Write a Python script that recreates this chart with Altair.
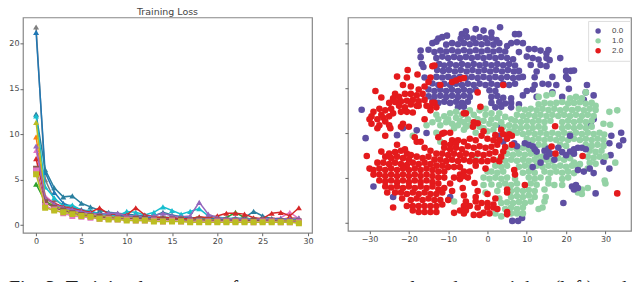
import altair as alt
import pandas as pd

epochs = list(range(30))
loss_series = [
 ("#ff7f0e","triangle-up",[9.7,3.0,2.3,1.9,1.6,1.4,1.2,1.1,1.0,0.9,0.9,0.8,0.8,0.7,0.8,0.7,0.7,0.6,0.7,0.6,0.6,0.6,0.7,0.6,0.6,0.5,0.6,0.6,0.8,0.7]),
 ("#2ca02c","triangle-up",[4.5,2.6,2.1,1.8,1.5,1.3,1.2,1.1,1.0,0.9,0.8,0.8,0.8,0.7,0.7,0.7,0.6,0.6,0.6,0.6,0.7,0.8,1.4,0.8,0.6,0.6,0.5,0.6,0.6,0.6]),
 ("#e377c2","triangle-up",[8.2,3.2,2.4,1.9,1.7,1.4,1.2,1.1,1.1,0.9,0.9,0.8,0.8,0.8,0.7,0.7,0.7,0.7,0.7,0.7,0.6,0.6,0.6,0.6,0.6,0.7,0.7,0.8,1.4,0.7]),
 ("#7f7f7f","triangle-up",[21.8,5.0,2.8,2.2,1.9,1.6,1.4,1.2,1.1,1.0,0.9,0.9,0.8,0.8,0.9,0.8,0.7,0.7,0.8,0.7,0.7,0.6,0.6,0.6,0.6,0.6,0.6,0.5,0.6,0.7]),
 ("#1f77b4","triangle-up",[21.2,5.8,3.6,2.4,2.0,1.7,1.4,1.3,1.2,1.1,1.0,0.9,0.9,0.8,0.8,0.8,0.7,0.7,0.7,0.7,0.6,0.6,0.6,0.6,0.6,0.5,0.5,0.5,0.6,0.5]),
 ("#2a7f9f","triangle-up",[12.2,6.1,4.1,3.1,3.2,2.4,2.0,1.6,1.4,1.3,1.2,1.1,1.0,1.0,1.4,1.1,0.9,0.8,0.8,0.8,0.7,0.7,0.7,0.8,1.5,1.0,0.7,0.7,0.6,0.6]),
 ("#17becf","triangle-up",[12.0,4.2,3.0,2.1,2.2,1.6,1.6,1.2,1.1,1.0,1.5,1.4,1.1,1.4,2.0,1.6,1.2,1.5,1.8,1.0,0.9,0.7,0.8,0.6,0.7,0.6,0.6,0.5,0.5,0.5]),
 ("#bcbd22","triangle-up",[11.3,3.0,2.2,1.8,1.5,1.3,1.1,1.0,0.9,0.8,0.8,0.7,0.7,0.7,0.6,0.6,0.6,0.6,0.6,0.6,0.5,0.5,0.5,0.5,0.5,0.5,0.5,0.5,0.5,0.5]),
 ("#d62728","triangle-up",[7.3,3.0,2.4,2.0,1.8,1.6,1.4,1.9,1.2,1.2,1.1,1.9,1.1,0.9,0.8,0.8,0.7,0.7,0.9,0.8,1.0,1.3,1.3,1.2,0.8,0.7,1.3,1.4,1.0,1.9]),
 ("#9467bd","triangle-up",[8.7,3.0,2.3,1.9,1.7,1.5,1.3,1.2,1.3,1.3,1.0,1.0,0.9,1.0,1.3,1.0,0.9,1.0,2.5,1.2,0.8,0.7,0.7,0.6,0.6,0.7,0.6,0.6,0.7,0.8]),
 ("#8c564b","square",[6.2,2.5,1.9,1.6,1.3,1.1,1.0,0.9,0.8,0.7,0.7,0.7,0.7,0.6,0.6,0.6,0.6,0.5,0.6,0.5,0.5,0.5,0.5,0.5,0.5,0.5,0.5,0.4,0.4,0.4]),
 ("#e377c2","square",[6.0,2.1,1.7,1.3,1.0,0.9,0.8,0.7,0.7,0.6,0.6,0.5,0.5,0.5,0.4,0.5,0.4,0.4,0.4,0.4,0.4,0.4,0.4,0.4,0.3,0.4,0.4,0.3,0.3,0.3]),
 ("#bcbd22","square",[5.6,1.9,1.6,1.4,1.2,1.0,0.9,0.7,0.6,0.6,0.5,0.5,0.5,0.4,0.4,0.4,0.4,0.3,0.3,0.3,0.3,0.3,0.3,0.3,0.3,0.3,0.3,0.3,0.3,0.2]),
]

purple_points = [(-5.5,34),(-3,34.7),(-1,34.2),(1,33.5),(3.2,35.3),(-6.5,33),(7,33),(8,33),
(-11.5,32),(-10.3,32.5),(-12.5,31.5),(-6.8,31.5),(-5.2,32),(-3.6,31.5),(-2,32),(-0.5,31.6),(1,31.8),(2.3,31),
(-14,30),(-13,30.5),(-10.5,29.5),(-9,30),(-7.5,29.6),(-6,30),(-4.5,29.6),(-3,30),(-1.5,29.6),(0,30),(1.5,29.5),(3,30),(5,29),(6,30),(7.5,30.3),(9,30),
(-17,27.5),(-15,27.8),(-13.5,27),(-12,27.5),(-10.5,27.2),(-9,27.6),(-7.5,27.2),(-6,27.6),(-4.5,27.2),(-3,27.6),(-1.5,27.2),(0,27.6),(1.5,27.2),(3,27.6),(4.5,27.2),(8,27),(10.5,28),(12,28),(13.5,27.5),(15,26.5),(15.5,27.7),
(-17,25.3),(-13,25),(-11.5,25.5),(-10,25),(-8.5,25.4),(-7,25),(-5.5,25.4),(-4,25),(-2.5,25.4),(-1,25),(0.5,25.4),(2,25),(3.5,25.4),(5,25),(6.5,24.6),(10,25.5),(11.5,25),(13,24.5),(15,25),(15.8,24.3),(18.5,25),
(-16.7,23),(-16.3,22),(-12.3,23),(-11,22.5),(-9.5,23),(-8,22.6),(-6.5,23),(-5,22.6),(-3.5,23),(-2,22.6),(-0.5,23),(1,22.6),(2.5,23),(4,22.6),(5.5,23),(7,22.5),(11,22.7),(13.5,22.7),(15,22.3),
(-12.8,21),(-11.3,20.7),(-9.8,21),(-8.3,20.5),(-6.8,21),(-5.3,20.5),(-3.8,21),(-2.3,20.5),(-0.8,21),(0.7,20.5),(2.2,21),(3.7,20.5),(5.2,21),(6.7,20.5),(8,20.7),(12.5,20.5),(20,20.7),(21.2,20.7),(22,20.8),
(-13,18.7),(-16,18.5),(-11.5,18.5),(-10,18.7),(-8.5,18.3),(-7,18.7),(-5.5,18.3),(-4,18.7),(-2.5,18.3),(-1,18.7),(0.5,18.3),(2,18.7),(3.5,18.3),(5,18.7),(6.5,18.3),(8,18.5),(9,18.7),(12,18.6),(16.5,18.7),(20,18.7),(20.5,18),
(-14,16.5),(-12.5,16),(-11,16.4),(-9.5,16),(-8,16.4),(-6.5,16),(-5,16.4),(-3.5,16),(-2,16.4),(-0.5,16),(1,16.4),(2.5,16),(4,16.4),(5.5,16),(7,16.4),(12,16),(14,16.4),(15.5,16.2),(17.5,16),(25.3,16),
(-15,14.5),(-13.5,14),(-12,14.4),(-10.5,14),(-9,14.4),(-7.5,14),(-6,14.4),(-4.5,14),(-3,14.4),(0.5,14.2),(2,14),(10,14),(11.5,14.5),(16.5,13.5),(20.7,14.7),(25,13.5),
(-15,12.2),(-13.5,12),(-12,12.4),(-10.5,12),(-9,12.4),(-7.5,12),(-6,12.4),(-4.5,12),(1,12),(2.5,12.3),(4,11.7),(6,11.5),(9,12.5),(12.5,12),(19,12),(24.5,11),(27,12.5),
(-14,10.5),(-12.5,10),(-11,10.4),(-9.5,10),(-8,10.4),(-6.5,10),(-5,10.4),(1,10),(3,10.3),(4.5,9.8),(6,10),(8,9.5),
(-7.5,8.5),(-6,8.7),(2,8.5),(3.5,8.7),(6,8.5),
(-32,7.7),(-31,-1.8),(-23,-0.8),(-21.5,1.5),(-18,0.8),(-15.5,-0.1),(27,4.5),(26.3,2.5),(34,0),(34.5,-2.5),(33.5,-4.3),(31.5,-1),(31,-3.5),(31.3,-7.5),(29.5,-9.7),(31,-12),(27,-13.5),(27.5,-20.3),(19.3,-23.5),(-29,-18),(-24,-21.5),(-9.5,-21.5),(6.3,-29.5),(7.8,-29.5),(8.8,-28.5),(3.5,2.3),(3,-1),(4,-3),
]
green_points = [(13,12),(15,12.5),(16.5,13),(21,11.5),(22.5,12),(24,11.5),(25,13.5),(13,9.5),(14.5,10),(16,9.8),(17.5,10),(19,10.3),(20.5,9.8),(22,10),(23.5,10.2),(25,9.7),(26.5,10),(27.5,9),
(31,7),(33,7.5),(8,8),(9.5,7.7),(11,8),(12.5,7.5),(14,8),(15.5,7.6),(17,8),(18.5,7.5),(20,8),(21.5,7.6),(23,8),(24.5,7.5),(26,8),(27.5,7.6),
(7.5,6),(9,5.6),(10.5,6),(12,5.6),(13.5,6),(15,5.6),(16.5,6),(18,5.6),(19.5,6),(21,5.6),(22.5,6),(24,5.6),(25.5,6),(27,5.6),
(7,4),(8.5,3.6),(10,4),(11.5,3.6),(13,4),(14.5,3.6),(16,4),(19,3.6),(20.5,4),(22,3.6),(23.5,4),(25,3.6),(26.5,4),(29.5,3),(31.2,2.7),
(7,2),(8.5,1.6),(10,2),(11.5,1.6),(13,2),(14.5,1.6),(19,1.6),(20.5,2),(22,1.6),(23.5,2),(25,1.6),(26.5,2),
(7.5,0),(9,-0.4),(10.5,0),(12,-0.4),(13.5,0),(15,-0.4),(16.5,0),(18,-0.4),(19.5,0),(21,-0.4),(22.5,0),(24,-0.4),(25.5,0),(27,-0.4),(28.5,0),(29.7,-0.6),
(10,-2),(11.5,-2.4),(13,-2),(14.5,-2.4),(16,-2),(17.5,-2.4),(19,-2),(20.5,-2.4),(22,-2),(23.5,-2.4),(25,-2),(26.5,-2.4),(28,-2),(29.5,-2.4),
(13,-4),(14.5,-4.4),(18.5,-4),(20,-4.4),(25,-4),(26.5,-4.4),(28,-4),(29.5,-4.4),
(6,-5),(7.5,-5.4),(9,-5),(10.5,-5.4),(12,-6),(26,-6),(27.5,-6.4),(29,-6),
(5,-7),(6.5,-7.4),(8,-7),(9.5,-7.4),(11,-7),(12.5,-7.5),(14,-8),(15.5,-7.5),(18,-8.5),(19.5,-9),(21,-8.5),(25.5,-8),(27,-8.4),(28.5,-8),(30,-8),(32.5,-10),
(3,-9),(4.5,-9.4),(6,-9),(7.5,-9.4),(9,-9),(10.5,-9.4),(12,-9),(13.5,-9.4),(15,-9),(16.5,-9.4),(22,-10),(23.5,-10.5),(26,-10),(27.5,-10.4),
(2,-11),(3.5,-11.4),(5,-11),(8,-11.4),(9.5,-11),(11,-11.4),(12.5,-11),(14,-11.4),(15.5,-11),(17,-11.4),(18.5,-11),(20,-11.4),(21.5,-11),(23,-11.5),(25.5,-12),
(1,-13),(2.5,-13.4),(4,-13),(9,-13.4),(10.5,-13),(12,-13.4),(14.5,-13),(16,-13.4),(17.5,-13),(19,-13.4),(20.5,-13),(22,-13.5),
(-1,-15),(0.5,-15.4),(2,-15),(3.5,-15.4),(5,-15),(7,-15.4),(10.5,-15),(12,-15.4),(13.5,-15),(15.5,-15.4),(19,-15.5),(20.5,-15),(29.8,-16),(30,-17),
(-1,-17.5),(1,-17.3),(3,-17.5),(4.5,-17),(6,-17.5),(7.5,-17),(11,-17),(12.5,-17.4),(15.5,-17),(17,-17.5),(19,-17.5),(24,-19),(25.5,-18.5),
(2.5,-19.5),(6,-19.5),(7.5,-19.2),(9,-19.5),(10.5,-19.2),(12,-19.5),(14.5,-19),(23,-20),(24,-20.5),
(6,-21.5),(7.5,-21.2),(9,-21.5),(10.5,-21),(12,-21.5),(14.8,-21.5),(3,-22),
(3.5,-23.5),(5,-23.3),(6.5,-23.5),(8,-23.2),(9.5,-23.5),(11,-23),(14.5,-23),
(4.5,-25.5),(6,-25),(7.5,-25.5),(9,-25),(13,-25.5),(14,-25),
(2,-27),(3.5,-28),(6,-27),(7.5,-27),(9,-27),
(-14,3.5),(-15.5,2.5),(-12.5,4.5),(-11,5.5),(-9.5,6.5),(-8,5),(-6.5,6),(-5,4.5),(-3.5,6),(-2,7.5),(-0.5,6),(1,6.5),(2.5,5),(4.5,5.3),(6,4.5),(-12,2.5),(-10.5,3.5),(-9,3),(-7.5,2.5),(-6,3.5),(-4.5,2.5),(-1,4),(0.5,3),(2,2.5),(4,2),(5.5,2.5),(-1,1.5),(-3,0),(-6,1),(0,0.5),(-19,-1),(-12,-3),(-13,0),(-8.5,-23),(-3,-9),(0,-13),(-0.5,-20),
(-8,7),(-4.5,7.5),(-0.5,8),(3,6.5),(-7,4),(-10,4.5),(-13,6),(-2.5,4.5),(1,4.5),(3.5,3.5),(-8.5,1.5),(-5.5,2),(-2,2),(1.5,1),(6.5,0.5),(5.5,0.5),
]
purple_on_top = [(9.5,-3.5),(10.5,-4),(11.5,-4.5),(12,-5.5),(12.5,-6.3),(14.5,-6),(15.5,-5.3),(16,-7),(15,-8),(15.7,-7),(18,-5),(19,-6.5),(20,-7.5),(21,-6.3),(22,-7),(22,-5.5),(23,-5),(24,-5),(25,-5.5),(21.5,-18),(22.5,-17.5),(23,-18.5),(22,-19),(11.5,-11.5),(17,-9),(13.5,-10),(23,-12.5),(24.5,-13),(21,-1),(26,-12),(6.8,-3.5),(7.5,-4.5),
]
red_points = [(-20.3,21),(-17.8,19.5),(-14,22.3),(-20.5,18.5),(-23,18.8),(-28.5,14),(-27,11.8),(-23.5,13),(-21.5,16),(-19.5,15.5),(-17.5,14.5),(-16,15.5),(-15,17),(-14.5,18.5),
(-24,11.5),(-22.5,12),(-21,13),(-19.5,13),(-18,12.5),(-16.5,13),(-25,10),(-23.5,10.3),(-22,10.5),(-20.5,10.7),(-19,11),(-17.5,10.5),(-16,11),(-15.5,9),(-18,9),(-21,8.5),(-19.5,9.5),(-22.5,9),(-14.5,8.5),(-13.5,10),(-24.5,8),(-13,8.5),
(-29,7),(-27.5,8),(-26,7.5),(-27,6),(-29.5,5.5),(-28,4.5),(-26.5,5),(-25,5.5),(-24,6.5),(-30,4.5),(-29.5,3),(-27.5,2.5),(-26,3.8),(-25,2.5),(-22,7),(-20.5,7),(-19,6.8),(-24.7,1.5),(-22,2),(-21.5,3),(-17.5,9),(-28,1.5),(-26,-1),(-20,2),
(-16,4.5),(-18.5,-1.5),(-17,-3),(-12.5,-1.5),(-11.5,-0.3),(-11,0),(-9.5,0),(-1,0.5),(-2.5,3.2),(-3.5,3.5),(-3.7,2),(-5.5,6.5),(-11,-3.5),(-9,-2.5),
(2,-0.8),(3.5,1),(4,-0.5),(5.5,-0.5),(6.2,-1),(5,-2),(6.2,-4),(4.5,-4.8),(3,-2.5),(1.5,-2.5),(0,-2),(-1.5,-1),(-3,-2.5),(-4.5,-2),(-6,-3),(-7.5,-2.5),(-9.5,-4),(-8,-3.7),
(-11,-5),(-9.5,-5.5),(-8,-5),(-6.5,-5.5),(-5,-4.5),(-3.5,-5),(-2,-4.5),(-0.5,-5),(1,-4.7),(2.5,-4),(4,-6.3),
(-11.5,-7),(-10,-7.5),(-8.5,-7),(-7,-7.5),(-5.5,-7),(-4,-7.5),(-2.5,-7),(-1,-7.5),(0.5,-7),(2,-6.5),(3.5,-8),(-13,-7),(-14.5,-6),(-16,-5),(-18,-3),
(-12,-9),(-10.5,-9.5),(-9,-9),(-7.5,-9.5),(-6,-9),(-4.5,-9.5),(-3,-9.5),(-1.5,-9.5),(0,-9.5),(1.5,-9),(3,-9.5),
(-30.7,-7.8),(-27,-6.3),(-25,-7),(-23.5,-6.5),(-22,-6),(-20.5,-7),(-23,-4),(-21,-5.5),(-19.5,-7.5),(-26,-8),(-24.5,-8.5),(-23,-8),(-21.5,-8.5),(-20,-9),(-18,-8),(-16.5,-8.5),(-15,-8),(-13.5,-9),
(-28,-10),(-26.5,-10),(-25,-10.5),(-23.5,-10),(-22,-10.5),(-20.5,-10.8),(-19,-10),(-17.5,-10.5),(-16,-10),(-14.5,-10.5),(-13,-11),(-11.5,-11),(-10,-11.5),(-8.5,-11.5),(-7,-11.5),(-3,-11),(-0.5,-12),(-30,-12),(-29,-12.5),
(-27.5,-12),(-26,-12.5),(-24.5,-12),(-23,-12.5),(-21.5,-12),(-20,-12.5),(-18.5,-12),(-17,-12.5),(-15.5,-12),(-14,-12.5),(-12.5,-13),(-11,-13),(-6,-13),(-4.5,-13),(-7,-14),
(-29,-14),(-27.5,-14),(-26,-14.5),(-24.5,-14),(-23,-14.5),(-21.5,-14),(-20,-14.5),(-18.5,-14),(-17,-14.5),(-15.5,-14),(-14,-14.5),(-12.5,-15),(-11,-15),(-8.5,-15),(-5,-15),(-7,-15.5),(-6,-14.5),
(-27.5,-16),(-26,-16.3),(-24.5,-16),(-23,-16.5),(-21.5,-16),(-20,-16.5),(-18.5,-16),(-17,-16.5),(-15.5,-16),(-14,-16.5),(-12.5,-17),(-9.5,-17),(-3.3,-16.8),
(-26,-18),(-24.5,-18.3),(-23,-18),(-21.5,-18.5),(-20,-18),(-18.5,-18.5),(-17,-18),(-15.5,-18.5),(-14,-18),(-12.5,-19),(-11,-18.5),(-6.3,-18.5),(-2.5,-19.5),
(-25.5,-20),(-23.5,-20),(-22,-20),(-20.5,-20.5),(-19,-20),(-17.5,-20.5),(-16,-20),(-14.5,-20.5),(-13,-20.5),(-11.5,-20),(-9,-19.5),(-6,-21),(-3,-21.5),(0,-20.5),(2,-22),
(-21.7,-22),(-19.5,-22.5),(-18,-22),(-16.5,-22.5),(-15,-22),(-13.5,-22.5),(-12,-22.5),(-10,-22.5),(-3,-23),(-1.5,-23.5),(0,-23.5),(-5.5,-23),(1.5,-24),
(-24,-25),(-20.5,-24.5),(-19,-24.5),(-17.5,-24.5),(-16,-24.5),(-14.5,-24.5),(-13,-24.5),(-11.5,-24),(-6,-24.5),(-4.5,-24.5),(0,-25),(1.5,-25),(2.5,-25.5),(-2.5,-25),
(-19,-26),(-17.5,-26.5),(-16,-26.5),(-14.5,-26.5),(-13,-26.5),(-8.5,-26.8),(-7,-26),(-6,-27),(-5.5,-26),(-3.5,-27.5),(-2,-27.5),(-1,-26.8),(0.5,-27),
(17.2,2.2),(16.3,-4.6),(17.3,-7),(24.2,-7.8),(33,-20.3),(9.5,-17.5),(6.8,-12.5),(7,-14),(5,-19),(5,-20),(5,-26.5),(5,-27.3),
(-12,16),(-13.5,22.5),(-9,17),(-8,17.5),(-7,18),(-6,18.3),(-2.5,13.5),(4,16),(-1.8,8.7),(-6,6.5),(-14,10),(-14.5,7.5),
]

scatter_rows = (
    [{"tx": p[0], "ty": p[1], "c": "0.0"} for p in purple_points]
    + [{"tx": p[0], "ty": p[1], "c": "1.0"} for p in green_points]
    + [{"tx": p[0], "ty": p[1], "c": "0.0"} for p in purple_on_top]
    + [{"tx": p[0], "ty": p[1], "c": "2.0"} for p in red_points]
)
scatter_df = pd.DataFrame(scatter_rows)
panel_title = ["Training Loss"]
caption_left = ["Fig. 3: Training loss curves for"]
caption_right = ["clean data weights (left) and"]

left_x = alt.X("e:Q", scale=alt.Scale(domain=[-1.45, 30.45], nice=False, zero=False),
               axis=alt.Axis(values=[0, 5, 10, 15, 20, 25, 30], title=None, grid=False, domain=False,
                             labelFontSize=8, labelColor="#444", tickColor="#666", tickSize=3, labelPadding=2,
                             labelFlush=False, format="d"))
left_y = alt.Y("v:Q", scale=alt.Scale(domain=[-0.85, 22.85], nice=False, zero=False),
               axis=alt.Axis(values=[0, 5, 10, 15, 20], title=None, grid=False, domain=False,
                             labelFontSize=8, labelColor="#444", tickColor="#666", tickSize=3, labelPadding=1,
                             maxExtent=14, minExtent=14, format="d"))
layers = []
for color, shape, vals in loss_series:
    d = pd.DataFrame({"e": epochs, "v": vals})
    base = alt.Chart(d)
    layers.append(base.mark_line(color=color, strokeWidth=1.5, clip=True).encode(x=left_x, y=left_y))
    layers.append(base.mark_point(color=color, fill=color, filled=True, opacity=1, size=36, shape=shape, clip=True).encode(x=left_x, y=left_y))
cap_l = alt.Chart(pd.DataFrame({"t": caption_left})).mark_text(
    font="Liberation Serif", fontSize=20, align="left", baseline="top", color="#222", clip=False
).encode(text="t:N", x=alt.value(-14), y=alt.value(262.5))
title_mark = alt.Chart(pd.DataFrame({"t": panel_title})).mark_text(
    font="DejaVu Sans", fontSize=9.5, align="center", baseline="alphabetic", color="#444", clip=False
).encode(text="t:N", x=alt.value(145), y=alt.value(-2))
left = alt.layer(*layers, cap_l, title_mark).properties(width=290, height=216)

right_chart = alt.Chart(scatter_df).mark_circle(size=44, opacity=1, clip=True).encode(
    x=alt.X("tx:Q", scale=alt.Scale(domain=[-35.5, 36.5], nice=False, zero=False),
            axis=alt.Axis(values=[-30, -20, -10, 0, 10, 20, 30], title=None, grid=False, domain=False,
                          labelFontSize=8, labelColor="#444", tickColor="#666", tickSize=3, labelPadding=2,
                          labelFlush=False, format="d")),
    y=alt.Y("ty:Q", scale=alt.Scale(domain=[-32.8, 38.6], nice=False, zero=False),
            axis=alt.Axis(values=[-30, -15, 0, 15, 30], title=None, grid=False, domain=False,
                          labels=False, tickColor="#666", tickSize=3)),
    color=alt.Color("c:N", scale=alt.Scale(domain=["0.0", "1.0", "2.0"], range=["#5e4fa2", "#94d2a5", "#e41a1c"]),
                    legend=alt.Legend(orient="none", legendX=241, legendY=3.5, title=None, fillColor="white",
                                      strokeColor="#ddd", padding=6, labelFontSize=8, labelColor="#444",
                                      symbolSize=30, symbolType="circle", rowPadding=2, labelOffset=10)),
    order=alt.value(0),
)
cap_r = alt.Chart(pd.DataFrame({"t": caption_right})).mark_text(
    font="Liberation Serif", fontSize=20, align="right", baseline="top", color="#222", clip=False
).encode(text="t:N", x=alt.value(280), y=alt.value(262.5))
right = alt.layer(right_chart, cap_r).properties(width=284, height=214)

chart = alt.hconcat(left, right, spacing=29, padding={"left": 0, "top": -2, "right": 0, "bottom": 0}, background="white").resolve_scale(color="independent").configure_view(
    stroke="#888", strokeWidth=1.2
).configure_axis(labelFont="DejaVu Sans")
chart.save("out.html", embed_options={"renderer": "svg", "actions": False})
